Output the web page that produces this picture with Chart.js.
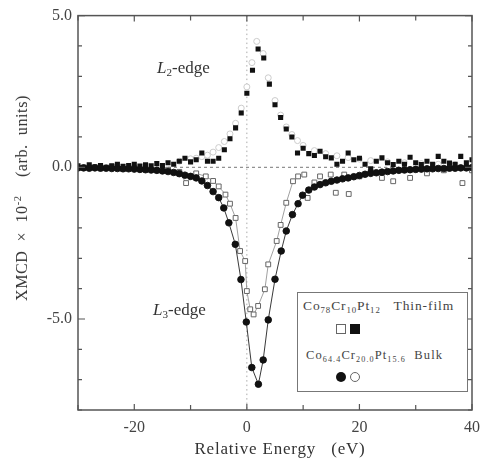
<!DOCTYPE html>
<html><head><meta charset="utf-8">
<script src="https://cdn.jsdelivr.net/npm/chart.js@4/dist/chart.umd.min.js"></script>
<style>
html,body{margin:0;padding:0;background:#fff;}
#wrap{position:relative;width:488px;height:468px;font-family:"Liberation Serif","DejaVu Serif",serif;color:#333;overflow:hidden;}
#c{position:absolute;left:0;top:0;}
.lbl{position:absolute;white-space:nowrap;color:#333;}
sub{font-size:65%;vertical-align:-3px;line-height:0;}
sup{font-size:65%;vertical-align:6px;line-height:0;}
#legend{position:absolute;left:297px;top:292px;width:171px;height:100px;border:1.5px solid #777;background:#fff;box-sizing:border-box;font-size:13px;color:#444;}
#legend .lbl{color:#444;}
.mk{position:absolute;width:10px;height:10px;box-sizing:border-box;}
</style>
</head><body>
<div id="wrap">
<canvas id="c" width="488" height="468"></canvas>
<div class="lbl" style="left:157px;top:58px;font-size:17px;"><i>L</i><sub>2</sub>-edge</div>
<div class="lbl" style="left:153px;top:300px;font-size:17px;"><i>L</i><sub>3</sub>-edge</div>
<div class="lbl" style="left:22px;top:198px;font-size:16px;letter-spacing:0.6px;transform:translate(-50%,-50%) rotate(-90deg);">XMCD &nbsp;× &nbsp;10<sup>-2</sup> &nbsp;&nbsp;&nbsp;(arb. &nbsp;units)</div>
<div class="lbl" style="left:280px;top:449px;font-size:17px;letter-spacing:0.8px;transform:translate(-50%,-50%);">Relative Energy &nbsp;&nbsp;(eV)</div>
<div id="legend">
  <div class="lbl" style="left:5px;top:5px;font-size:13.5px;letter-spacing:0.9px;">Co<sub>78</sub>Cr<sub>10</sub>Pt<sub>12</sub> &nbsp;&nbsp;Thin-film</div>
  <div class="mk" style="left:38px;top:31px;border:1px solid #666;background:#fff;"></div>
  <div class="mk" style="left:52px;top:31px;background:#111;"></div>
  <div class="lbl" style="left:8px;top:55px;font-size:12.5px;letter-spacing:1.1px;">Co<sub>64.4</sub>Cr<sub>20.0</sub>Pt<sub>15.6</sub> &nbsp;Bulk</div>
  <div class="mk" style="left:38px;top:79px;border-radius:50%;background:#111;"></div>
  <div class="mk" style="left:52px;top:79px;border-radius:50%;border:1px solid #666;background:#fff;"></div>
</div>
</div>
<script>
// ---- data ----
const filmEnergy = [-30,-29,-28,-27,-26,-25,-24,-23,-22,-21,-20,-19,-18,-17,-16,-15,-14,-13,-12,-11,
  -10,-9,-8,-7,-6,-5,-4,-3,-2,-1,0,1,2,3,4,5,6,7,8,9,10,
  11,12,13,14,15,16,17,18,19,20,21,22,23,24,25,26,27,28,29,30,31,32,33,34,35,36,37,38,39,40];
const filmL2 = [0.05,0.0,0.08,0.02,0.06,0.0,0.05,0.1,0.03,0.06,0.1,0.04,0.08,0.05,0.12,0.06,0.15,0.1,0.2,0.3,
  0.18,0.25,0.47,0.2,0.2,0.3,0.58,0.94,1.3,1.79,2.44,3.2,3.9,3.6,2.74,2.06,1.64,1.26,1.0,0.47,0.63,
  0.45,0.39,0.53,0.35,0.31,0.1,0.2,0.47,0.25,0.3,0.1,-0.05,0.2,0.31,0.15,0.09,0.2,0.1,0.33,0.15,0.09,0.2,0.1,0.36,0.2,0.14,0.1,0.36,0.15,0.25];

const filmL3Energy = [-30,-28,-26,-24,-22,-20,-18,-16,-14,-12,-10.8,-9,-7.3,-6,-5,-3.8,-3,-2,-1.2,-0.3,0,0.6,1.2,2,3.2,3.8,5.3,6,7,8.2,9.1,
  10.2,10.8,12,13,14.9,15.8,17.3,18.1,20,22,24,26,29,32,35,38.3,40];
const filmL3 = [-0.02,0.0,-0.03,0.02,-0.05,-0.02,-0.05,-0.1,-0.08,-0.15,-0.52,-0.2,-0.3,-0.45,-0.63,-0.9,-1.2,-1.67,-2.76,-3.09,-4.08,-4.68,-4.85,-4.57,-4.02,-3.2,-2.43,-1.9,-1.17,-0.46,-0.3,
  -0.24,-1.01,-0.5,-0.3,-0.24,-0.84,-0.24,-0.88,-0.3,-0.15,-0.35,-0.46,-0.35,-0.2,-0.1,-0.52,-0.1];

const bulkEnergy = [-30,-29,-28,-27,-26,-25,-24,-23,-22,-21,-20,-19,-18,-17,-16,-15,-14,-13,-12,-11,-10,-9,-8,-7,-6,-5,
  -4.1,-3.2,-2.05,-1.05,-0.1,0.88,2.05,2.9,3.8,5.0,6.1,7.0,8.1,9.1,9.9,
  11,12,13,14,15,16,17,18,19,20,21,22,23,24,25,26,27,28,29,30,31,32,33,34,35,36,37,38,39,40];
const bulkL3 = [-0.02,-0.02,-0.03,-0.02,-0.03,-0.03,-0.04,-0.04,-0.05,-0.05,-0.06,-0.07,-0.08,-0.09,-0.1,-0.12,-0.14,-0.17,-0.21,-0.26,-0.3,-0.35,-0.45,-0.6,-0.8,-1.0,
  -1.34,-1.83,-2.54,-3.7,-5.1,-6.6,-7.15,-6.35,-5.03,-3.69,-2.76,-2.1,-1.56,-1.2,-0.92,
  -0.75,-0.65,-0.57,-0.51,-0.46,-0.42,-0.38,-0.35,-0.31,-0.27,-0.23,-0.2,-0.18,-0.16,-0.14,-0.12,-0.1,-0.09,-0.08,-0.07,-0.06,-0.05,-0.05,-0.04,-0.04,-0.03,-0.03,-0.02,-0.02,-0.01];
const bulkL2Energy = [-12,-10,-9,-8,-7,-6,-5,-4,-3,-2,-1,0,0.9,1.75,2.9,3.8,5,6,7,8,9,10,12,14,16,18,20,22,25,28,31,34,37];
const bulkL2 = [0.2,0.28,0.3,0.35,0.4,0.5,0.65,0.85,1.1,1.45,1.95,2.65,3.45,4.15,3.75,2.95,2.2,1.72,1.33,1.08,0.88,0.72,0.55,0.45,0.38,0.32,0.27,0.22,0.18,0.15,0.12,0.1,0.08];

const xTicks = [-20,0,20,40];
const yTicks = [-5,0,5];

const pts = (xs, ys) => xs.map((v,i)=>({x:v,y:ys[i]}));
const film3Pts = pts(filmL3Energy, filmL3);

const framePlugin = {
  id:'frame',
  beforeDatasetsDraw(chart){
    const {ctx, chartArea:a, scales:{x,y}} = chart;
    const x0 = x.getPixelForValue(0), y0 = y.getPixelForValue(0);
    ctx.save();
    ctx.lineWidth = 1;
    ctx.strokeStyle = '#aaa';
    ctx.setLineDash([1.5,3]);
    ctx.beginPath(); ctx.moveTo(x0,a.top); ctx.lineTo(x0,a.bottom); ctx.stroke();
    ctx.strokeStyle = '#777';
    ctx.setLineDash([3,3]);
    ctx.beginPath(); ctx.moveTo(a.left,y0); ctx.lineTo(a.right,y0); ctx.stroke();
    ctx.restore();
  },
  afterDraw(chart){
    const {ctx, chartArea:a, scales:{x,y}} = chart;
    ctx.save();
    ctx.strokeStyle = '#555';
    ctx.lineWidth = 1.5;
    ctx.strokeRect(a.left, a.top, a.right-a.left, a.bottom-a.top);
    ctx.lineWidth = 1.2;
    ctx.beginPath();
    for (let v=-30; v<=40; v+=10){
      const px = x.getPixelForValue(v);
      const L = (v%20===0)?6:5;
      ctx.moveTo(px,a.bottom); ctx.lineTo(px,a.bottom-L);
      ctx.moveTo(px,a.top); ctx.lineTo(px,a.top+L);
    }
    for (let v=-8; v<=5; v+=1){
      const py = y.getPixelForValue(v);
      const L = (v%5===0)?7:4;
      ctx.moveTo(a.left,py); ctx.lineTo(a.left+L,py);
      ctx.moveTo(a.right,py); ctx.lineTo(a.right-L,py);
    }
    ctx.stroke();
    ctx.restore();
  }
};

new Chart(document.getElementById('c'), {
  type:'scatter',
  data:{ datasets:[
    { label:'film L2', data: pts(filmEnergy, filmL2), pointStyle:'rect', pointRadius:3.6, backgroundColor:'#111', borderColor:'#111', borderWidth:0, showLine:false },
    { label:'bulk L3', data: pts(bulkEnergy, bulkL3), pointStyle:'circle', pointRadius:3.3, backgroundColor:'#111', borderColor:'#222', pointBorderColor:'#111', borderWidth:0.9, showLine:true },
    { label:'film L3', data: film3Pts, pointStyle:'rect', pointRadius:3.4, backgroundColor:'#fff', pointBorderColor:'#666', borderWidth:1, showLine:false },
    { label:'film L3 line', data: film3Pts.filter(p=>p.x>=-12 && p.x<=10), pointRadius:0, borderColor:'#888', borderWidth:0.8, showLine:true },
    { label:'bulk L2', data: pts(bulkL2Energy, bulkL2), pointStyle:'circle', pointRadius:3, backgroundColor:'#fff', pointBorderColor:'#ccc', borderWidth:1, showLine:false }
  ]},
  options:{
    responsive:false, animation:false, events:[],
    layout:{ padding:{ top:14, right:8, left:0, bottom:0 } },
    plugins:{ legend:{display:false}, tooltip:{enabled:false} },
    scales:{
      x:{ type:'linear', min:-30, max:40,
        grid:{display:false, drawTicks:false}, border:{display:false},
        afterBuildTicks: s => { s.ticks = xTicks.map(v=>({value:v})); },
        afterFit: s => { s.height = 58; },
        ticks:{ padding:8, color:'#444', font:{family:'"Liberation Serif", serif', size:16}, maxRotation:0, callback:v=>String(v) } },
      y:{ type:'linear', min:-8, max:5,
        grid:{display:false, drawTicks:false}, border:{display:false},
        afterBuildTicks: s => { s.ticks = yTicks.map(v=>({value:v})); },
        afterFit: s => { s.width = 78; },
        ticks:{ padding:6, color:'#444', font:{family:'"Liberation Serif", serif', size:16}, callback:v=>v.toFixed(1) } }
    }
  },
  plugins:[framePlugin]
});
</script>
</body></html>
